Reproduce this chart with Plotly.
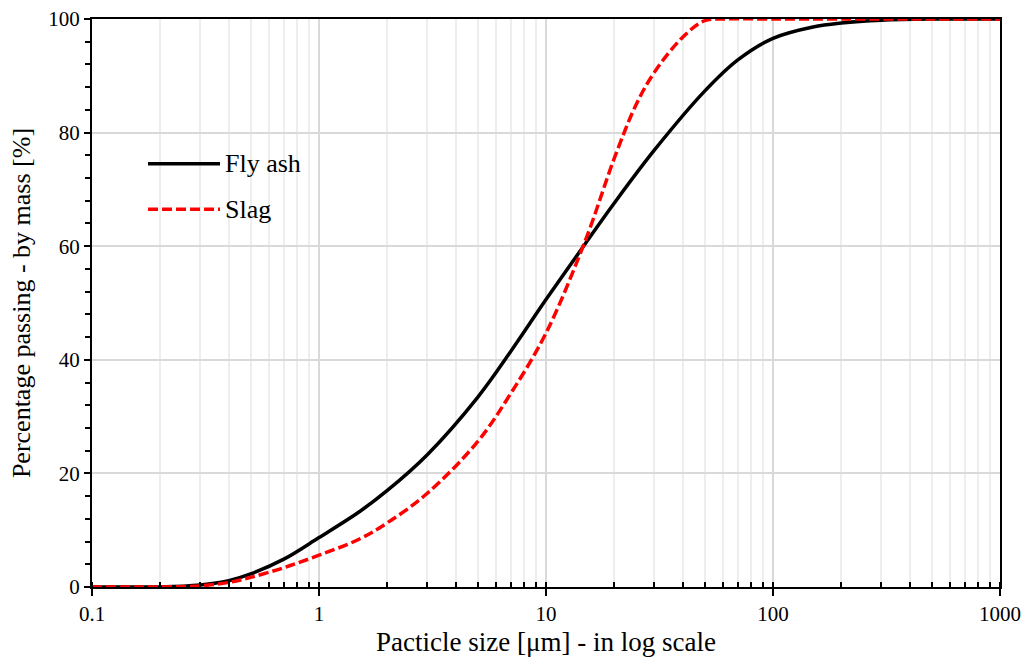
import plotly.graph_objects as go

# Particle size (µm) and cumulative percentage passing
fly_size = [0.1, 0.15, 0.2, 0.3, 0.4, 0.5, 0.7, 1, 1.5, 2, 3, 5, 7, 10,
            15, 20, 30, 50, 70, 100, 150, 200, 300, 500, 1000]
fly_pass = [0, 0, 0, 0.35, 1.1, 2.3, 4.9, 8.7, 13.2, 17.0, 23.3, 33.4, 41.5, 50.6,
            60.6, 67.6, 76.9, 87.3, 92.8, 96.6, 98.6, 99.3, 99.8, 100, 100]

slag_size = [0.1, 0.15, 0.2, 0.3, 0.4, 0.5, 0.7, 1, 1.5, 2, 3, 5, 7, 10,
             15, 20, 25, 30, 40, 50, 60, 100, 200, 500, 1000]
slag_pass = [0, 0, 0, 0.2, 0.8, 1.7, 3.4, 5.6, 8.4, 11.3, 16.5, 25.6, 34.1, 44.7,
             61.3, 75.5, 85.0, 90.6, 96.8, 99.7, 100, 100, 100, 100, 100]

x_ticks = [0.1, 1, 10, 100, 1000]
x_tick_text = ["0.1", "1", "10", "100", "1000"]
series_names = ["Fly ash", "Slag"]

FONT = "Liberation Serif"
DASH = "10px,4px"

fig = go.Figure()
fig.add_trace(go.Scatter(x=fly_size, y=fly_pass, mode="lines", name=series_names[0],
                         line=dict(color="black", width=3.5, shape="spline", smoothing=1.0),
                         showlegend=False))
fig.add_trace(go.Scatter(x=slag_size, y=slag_pass, mode="lines", name=series_names[1],
                         line=dict(color="#ff0000", width=3.5, dash=DASH, shape="spline", smoothing=1.0),
                         showlegend=False))

# Legend drawn manually (long line samples like the original)
legend_items = [(0.745, "black", "solid", series_names[0]),
                (0.665, "#ff0000", DASH, series_names[1])]
for yy, col, dash, name in legend_items:
    fig.add_shape(type="line", xref="paper", yref="paper", x0=0.0617, x1=0.141, y0=yy, y1=yy,
                  line=dict(color=col, width=3.5, dash=dash))
    fig.add_annotation(xref="paper", yref="paper", x=0.1445, y=yy, text=name, showarrow=False,
                       xanchor="left", yanchor="middle", font=dict(family=FONT, size=26, color="black"))

fig.update_xaxes(type="log", range=[-1, 3], automargin=False,
                 tickmode="array", tickvals=x_ticks, ticktext=x_tick_text,
                 ticks="outside", ticklen=7, tickwidth=2, tickcolor="black",
                 showline=True, linecolor="black", linewidth=2, mirror=True,
                 showgrid=True, gridcolor="#d9d9d9", gridwidth=1.5,
                 minor=dict(dtick="D1", ticks="inside", ticklen=5, tickwidth=1.5, tickcolor="black",
                            showgrid=True, gridcolor="#eeeeee", gridwidth=1.5),
                 tickfont=dict(family=FONT, size=21, color="black"),
                 title=dict(text="Pacticle size [μm] - in log scale",
                            font=dict(family=FONT, size=27, color="black"), standoff=7),
                 zeroline=False)
fig.update_yaxes(range=[0, 100], dtick=20, automargin=False,
                 ticks="outside", ticklen=6, tickwidth=2, tickcolor="black",
                 showline=True, linecolor="black", linewidth=2, mirror=True,
                 showgrid=True, gridcolor="#d9d9d9", gridwidth=1.5,
                 minor=dict(dtick=4, ticks="outside", ticklen=5, tickwidth=1.5, tickcolor="black", showgrid=False),
                 tickfont=dict(family=FONT, size=21, color="black"),
                 title=dict(text="Percentage passing - by mass [%]",
                            font=dict(family=FONT, size=26, color="black"), standoff=10),
                 zeroline=False)

fig.update_layout(width=1029, height=662, margin=dict(l=92, r=29, t=19, b=75),
                  paper_bgcolor="white", plot_bgcolor="white",
                  font=dict(family=FONT, size=22, color="black"))

fig.write_html("out.html")
